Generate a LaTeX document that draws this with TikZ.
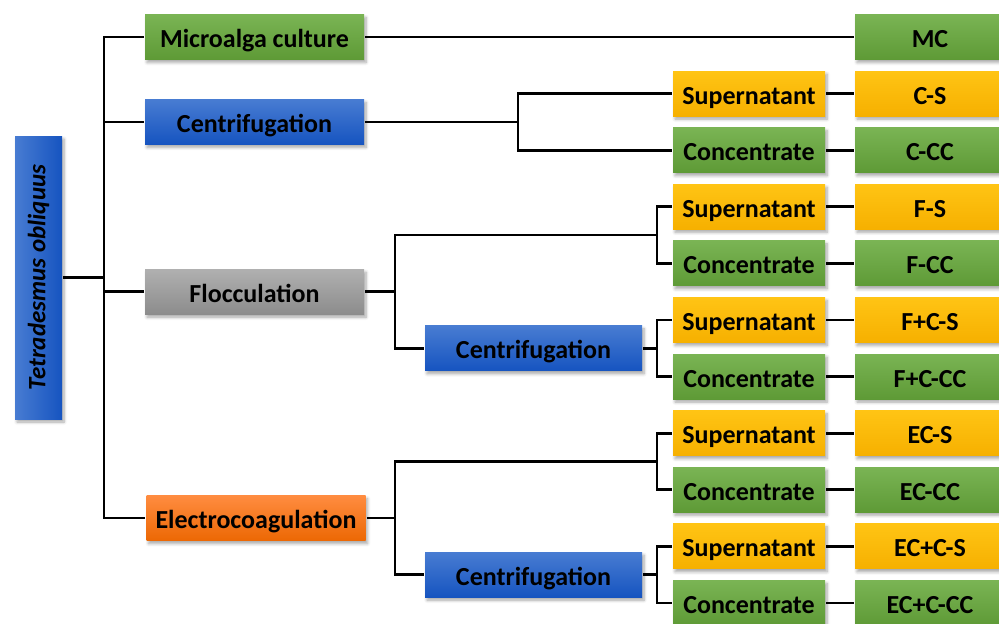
\documentclass[tikz,border=0pt]{standalone}
\usepackage{fontspec}
\setmainfont{Carlito}
\usepackage{tikz}
\usetikzlibrary{calc,shadows,shadows.blur}

\definecolor{greentop}{RGB}{122,180,84}
\definecolor{greenbot}{RGB}{94,154,54}
\definecolor{bluetop}{RGB}{72,124,210}
\definecolor{bluebot}{RGB}{22,84,192}
\definecolor{goldtop}{RGB}{255,196,20}
\definecolor{goldbot}{RGB}{246,176,0}
\definecolor{graytop}{RGB}{176,176,176}
\definecolor{graybot}{RGB}{140,140,140}
\definecolor{orangetop}{RGB}{255,140,64}
\definecolor{orangebot}{RGB}{236,104,4}

\begin{document}
\begin{tikzpicture}[x=1pt,y=-1pt,line width=2.7pt]
            \tikzstyle{box}=[minimum height=45pt,inner sep=0pt,text=black,
              font=\bfseries\fontsize{26}{30}\selectfont,
              blur shadow={shadow xshift=2pt,shadow yshift=-3pt,shadow blur steps=6,shadow blur radius=3pt,shadow opacity=35}]
            \tikzstyle{lab}=[text height=26.5pt,text depth=5.7pt]
            \tikzstyle{greenbox}=[box,lab,top color=greentop,bottom color=greenbot]
            \tikzstyle{bluebox}=[box,lab,top color=bluetop,bottom color=bluebot]
            \tikzstyle{goldbox}=[box,lab,top color=goldtop,bottom color=goldbot]
            \tikzstyle{graybox}=[box,lab,top color=graytop,bottom color=graybot]
            \tikzstyle{orangebox}=[box,lab,top color=orangetop,bottom color=orangebot]

            \useasboundingbox (0,0) rectangle (999,624);

            % columns where the branches split
            \coordinate (J-0) at (104,0);
            \coordinate (J-1) at (518,0);
            \coordinate (J-2) at (395,0);
            \coordinate (J-3) at (657,0);

            \node[box,left color=bluetop,right color=bluebot,minimum width=47pt,minimum height=283pt,
                  font=\bfseries\fontsize{25}{30}\selectfont]
              (root) at (38.5,277.5) {\rotatebox{90}{\itshape Tetradesmus obliquus}};

            % products and samples, one per row
            \foreach \k/\lab/\sty in {1/Supernatant/goldbox, 2/Concentrate/greenbox, 3/Supernatant/goldbox,
                                      4/Concentrate/greenbox, 5/Supernatant/goldbox, 6/Concentrate/greenbox,
                                      7/Supernatant/goldbox, 8/Concentrate/greenbox, 9/Supernatant/goldbox,
                                      10/Concentrate/greenbox}
              \node[\sty,minimum width=152pt] (P-\k) at (749,{37+56.6*\k}) {\lab};

            \foreach \k/\lab/\sty in {0/MC/greenbox, 1/C-S/goldbox, 2/C-CC/greenbox, 3/F-S/goldbox,
                                      4/F-CC/greenbox, 5/F+C-S/goldbox, 6/F+C-CC/greenbox, 7/EC-S/goldbox,
                                      8/EC-CC/greenbox, 9/EC+C-S/goldbox, 10/EC+C-CC/greenbox}
              \node[\sty,minimum width=150pt] (R-\k) at (930,{37+56.6*\k}) {\lab};

            \coordinate (F-top) at ($(P-3.west)!.5!(P-4.west)$);
            \coordinate (E-top) at ($(P-7.west)!.5!(P-8.west)$);

            % harvesting steps
            \node[greenbox,minimum width=219pt] (mic) at (254.5,37) {Microalga culture};
            \node[bluebox,minimum width=219pt] (cen) at (254.5,121.9) {Centrifugation};
            \node[graybox,minimum width=219pt] (flo) at (254.5,291.7) {Flocculation};
            \node[orangebox,minimum width=219pt] (ele) at (256,518.1) {Electrocoagulation};
            \node[bluebox,minimum width=217pt] (cen-F) at (533.5,348.3) {Centrifugation};
            \node[bluebox,minimum width=217pt] (cen-E) at (533.5,574.7) {Centrifugation};

            \draw (root.east) -- (root.east -| J-0);
            \draw (mic.west) -| (ele.west -| J-0) -- (ele.west);
            \draw (cen.west) -- (cen.west -| J-0);
            \draw (flo.west) -- (flo.west -| J-0);

            \draw (mic) -- (R-0);
            \draw (cen.east) -- (cen.east -| J-1);
            \draw (P-1.west) -| (P-2.west -| J-1) -- (P-2.west);

            \draw (flo.east) -- (flo.east -| J-2);
            \draw (cen-F.west) -| (F-top -| J-2) -- (F-top -| J-3);
            \draw (ele.east) -- (ele.east -| J-2);
            \draw (cen-E.west) -| (E-top -| J-2) -- (E-top -| J-3);
            \draw (cen-F.east) -- (cen-F.east -| J-3);
            \draw (cen-E.east) -- (cen-E.east -| J-3);

            \foreach \a/\b in {3/4, 5/6, 7/8, 9/10}
              \draw (P-\a.west) -| (P-\b.west -| J-3) -- (P-\b.west);

            \foreach \k in {1,...,10}
              \draw (P-\k) -- (R-\k);
        \end{tikzpicture}
\end{document}
